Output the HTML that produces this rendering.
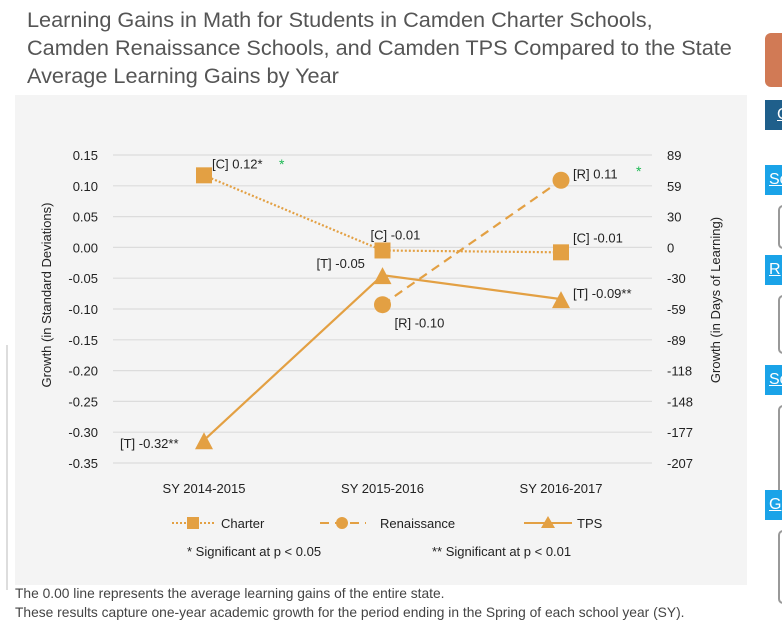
<!DOCTYPE html>
<html><head><meta charset="utf-8"><style>
body{margin:0;width:782px;height:628px;background:#fff;overflow:hidden;font-family:"Liberation Sans",sans-serif;position:relative}
.t{position:absolute;left:27px;top:6px;font-size:21.7px;color:#555;line-height:28px}
.foot{position:absolute;left:15px;font-size:13.8px;color:#444}
.sb{position:absolute;left:765px;width:30px}
</style></head><body>
<div class="t">Learning Gains in Math for Students in Camden Charter Schools,<br>Camden Renaissance Schools, and Camden TPS Compared to the State<br>Average Learning Gains by Year</div>
<div style="position:absolute;left:15px;top:95px;width:732px;height:490px;background:#f4f4f4"></div>
<div style="position:absolute;left:6px;top:345px;width:2px;height:245px;background:#ddd"></div>
<div class="sb" style="top:33px;height:54px;background:#d17a55;border-radius:6px"></div>
<div class="sb" style="top:100px;height:30px;background:#1f5f8b;color:#fff;font-size:16px;padding-left:12px;line-height:30px;text-decoration:underline">C</div>
<div class="sb" style="top:165px;height:30px;background:#1aa3e8;color:#fff;font-size:16px;padding-left:4px;line-height:30px;text-decoration:underline">Sc</div>
<div class="sb" style="top:205px;height:40px;border:2px solid #999;border-radius:5px;left:778px"></div>
<div class="sb" style="top:255px;height:30px;background:#1aa3e8;color:#fff;font-size:16px;padding-left:4px;line-height:30px;text-decoration:underline">R</div>
<div class="sb" style="top:295px;height:55px;border:2px solid #999;border-radius:5px;left:778px"></div>
<div class="sb" style="top:365px;height:30px;background:#1aa3e8;color:#fff;font-size:16px;padding-left:4px;line-height:30px;text-decoration:underline">Sc</div>
<div class="sb" style="top:405px;height:90px;border:2px solid #999;border-radius:5px;left:778px"></div>
<div class="sb" style="top:490px;height:30px;background:#1aa3e8;color:#fff;font-size:16px;padding-left:4px;line-height:30px;text-decoration:underline">G</div>
<div class="sb" style="top:530px;height:70px;border:2px solid #999;border-radius:5px;left:778px"></div>
<div class="foot" style="top:586px">The 0.00 line represents the average learning gains of the entire state.</div>
<div class="foot" style="top:605px">These results capture one-year academic growth for the period ending in the Spring of each school year (SY).</div>
<svg id="c" width="782" height="628" style="position:absolute;left:0;top:0" font-family="Liberation Sans, sans-serif"></svg>
<script>
const categories=["SY 2014-2015","SY 2015-2016","SY 2016-2017"];
const charter=[0.117,-0.005,-0.008];
const renaissance=[null,-0.093,0.109];
const tps=[-0.313,-0.045,-0.084];
const charterLabels=["[C] 0.12*","[C] -0.01","[C] -0.01"];
const renLabels=[null,"[R] -0.10","[R] 0.11"];
const tpsLabels=["[T] -0.32**","[T] -0.05","[T] -0.09**"];
const leftTicks=[0.15,0.10,0.05,0.00,-0.05,-0.10,-0.15,-0.20,-0.25,-0.30,-0.35];
const rightTicks=["89","59","30","0","-30","-59","-89","-118","-148","-177","-207"];
const svg=document.getElementById('c');const NS='http://www.w3.org/2000/svg';
const col='#e3a043';
function y(v){return 155+(0.15-v)*616;}
function x(i){return 204+i*178.5;}
function mk(t,a,p){const e=document.createElementNS(NS,t);for(const k in a)e.setAttribute(k,a[k]);(p||svg).appendChild(e);return e;}
function tx(s,xx,yy,a){const e=mk('text',Object.assign({x:xx,y:yy,'font-size':13,fill:'#222'},a||{}));e.textContent=s;return e;}
leftTicks.forEach((v,i)=>{
 const g=mk('line',{x1:113,x2:652,y1:y(v),y2:y(v),stroke:'#dcdcdc','stroke-width':1.2});
 
 const l=tx(v.toFixed(2),98,y(v)+5,{'text-anchor':'end'});
 
 const r=tx(rightTicks[i],667,y(v)+5);
 
});
categories.forEach((c,i)=>{const e=tx(c,x(i),493,{'text-anchor':'middle'});
 });
let a=tx('Growth (in Standard Deviations)',0,0,{transform:'translate(51,295) rotate(-90)','text-anchor':'middle'});

a=tx('Growth (in Days of Learning)',0,0,{transform:'translate(720,300) rotate(-90)','text-anchor':'middle'});

function path(arr,dash,name){let d='';arr.forEach((v,i)=>{if(v===null)return;d+=(d?'L':'M')+x(i)+' '+y(v);});
 const p=mk('path',{d:d,fill:'none',stroke:col,'stroke-width':2.2,'stroke-dasharray':dash});
 }
path(charter,'2 2','charter-line');path(renaissance,'9 6','renaissance-line');path(tps,'','tps-line');
function sq(cx,cy,g){return mk('rect',{x:cx-8,y:cy-8,width:16,height:16,fill:col},g);}
function ci(cx,cy,g){return mk('circle',{cx:cx,cy:cy,r:8.5,fill:col},g);}
function tr(cx,cy,g){return mk('polygon',{points:`${cx},${cy-10} ${cx+9},${cy+7} ${cx-9},${cy+7}`,fill:col},g);}
charter.forEach((v,i)=>{const m=sq(x(i),y(v));});
renaissance.forEach((v,i)=>{if(v===null)return;const m=ci(x(i),y(v));});
tps.forEach((v,i)=>{const m=tr(x(i),y(v)+2);});
const cOff=[[8,-7],[-12,-11],[12,-10]],rOff=[[0,0],[12,23],[12,-2]],tOff=[[-84,8],[-66,-7],[12,-1]];
charterLabels.forEach((s,i)=>{const e=tx(s,x(i)+cOff[i][0],y(charter[i])+cOff[i][1]);});
renLabels.forEach((s,i)=>{if(!s)return;const e=tx(s,x(i)+rOff[i][0],y(renaissance[i])+rOff[i][1]);});
tpsLabels.forEach((s,i)=>{const e=tx(s,x(i)+tOff[i][0],y(tps[i])+tOff[i][1]);});
a=tx('*',279,169,{fill:'#1db954','font-size':14});
a=tx('*',636,176,{fill:'#1db954','font-size':14});
let g=mk('g',{});
mk('line',{x1:172,x2:214,y1:523,y2:523,stroke:col,'stroke-width':2,'stroke-dasharray':'2 2'},g);mk('rect',{x:187,y:517,width:12,height:12,fill:col},g);
g.appendChild(tx('Charter',221,528));
g=mk('g',{});
mk('line',{x1:320,x2:366,y1:523,y2:523,stroke:col,'stroke-width':2,'stroke-dasharray':'9 6'},g);mk('circle',{cx:342,cy:523,r:6,fill:col},g);
g.appendChild(tx('Renaissance',380,528));
g=mk('g',{});
mk('line',{x1:524,x2:572,y1:523,y2:523,stroke:col,'stroke-width':2},g);mk('polygon',{points:'548,516 555,528 541,528',fill:col},g);
g.appendChild(tx('TPS',577,528));
a=tx('* Significant at p < 0.05',187,556);
a=tx('** Significant at p < 0.01',432,556);
</script>
</body></html>
